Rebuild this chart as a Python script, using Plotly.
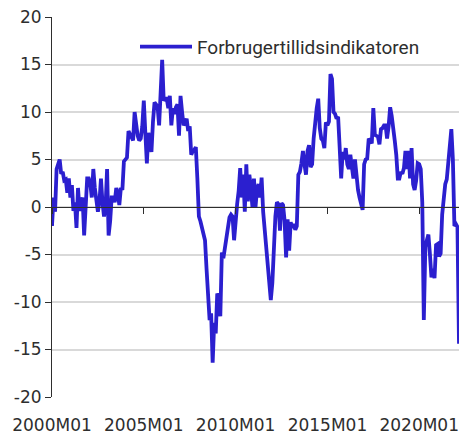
import plotly.graph_objects as go

series_name = "Forbrugertillidsindikatoren"

years = list(range(2000, 2023))
v2000 = [-2.0, 1.0, -0.5, 4.0, 4.5, 5.0, 3.5, 3.7, 2.8, 2.9, 1.5, 3.0]
v2001 = [1.0, 2.3, -0.4, 0.5, -2.2, 2.0, -0.4, 0.5, 1.0, -3.0, 0.0, 3.0]
v2002 = [3.0, 2.5, 1.0, 4.0, 2.0, 1.0, -0.5, 0.5, 3.0, 0.5, -1.0, 0.0]
v2003 = [4.0, -3.0, -1.5, 1.0, 1.0, 0.5, 2.0, 1.5, 0.2, 2.0, 1.8, 4.8]
v2004 = [5.0, 5.2, 8.0, 7.7, 7.5, 7.0, 10.0, 8.5, 7.5, 7.0, 7.2, 8.5]
v2005 = [11.2, 7.8, 4.6, 7.8, 6.4, 5.8, 9.0, 11.0, 10.8, 10.6, 8.6, 11.4]
v2006 = [15.5, 11.2, 11.4, 11.4, 10.4, 11.7, 8.6, 10.4, 9.8, 10.5, 10.8, 7.5]
v2007 = [11.7, 10.0, 8.6, 8.9, 9.3, 8.0, 8.5, 5.5, 5.9, 6.0, 6.3, 3.0]
v2008 = [-1.0, -1.5, -2.2, -2.5, -3.5, -6.5, -9.5, -11.9, -11.2, -16.4, -12.2, -13.3]
v2009 = [-9.1, -9.5, -11.5, -4.8, -5.4, -4.2, -3.2, -2.5, -1.1, -0.8, -1.0, -3.5]
v2010 = [-1.1, 0.3, 1.7, 4.1, 1.0, 3.4, -0.5, 4.5, 0.6, 3.4, 2.0, 0.0]
v2011 = [3.0, 0.0, 1.9, 2.4, 1.0, 3.1, -0.5, -2.5, -3.5, -5.5, -7.7, -9.8]
v2012 = [-8.0, -4.2, -1.0, 0.5, 0.3, -2.5, 0.4, 0.2, -1.4, -5.3, -1.3, -4.6]
v2013 = [-1.6, -2.2, -1.8, -2.4, -2.0, 3.4, 3.7, 4.6, 5.9, 4.5, 3.4, 5.9]
v2014 = [6.5, 4.2, 4.5, 7.2, 9.3, 10.4, 11.4, 8.3, 7.2, 7.0, 6.2, 8.9]
v2015 = [8.6, 9.0, 14.0, 13.5, 10.0, 9.8, 9.3, 9.5, 6.3, 3.0, 5.8, 5.0]
v2016 = [6.2, 4.5, 4.0, 5.5, 4.2, 3.0, 5.0, 3.0, 1.8, 1.0, 0.5, -0.3]
v2017 = [4.5, 5.0, 5.1, 7.2, 7.0, 6.7, 10.4, 7.6, 7.5, 7.4, 6.6, 8.2]
v2018 = [8.3, 8.6, 8.6, 7.2, 8.5, 10.5, 9.6, 8.6, 7.0, 5.5, 3.0, 3.0]
v2019 = [3.7, 3.5, 4.1, 5.9, 4.0, 5.9, 3.0, 6.2, 2.4, 1.8, 2.8, 4.6]
v2020 = [4.5, 4.0, 0.5, -11.9, -4.2, -3.5, -2.9, -5.0, -7.4, -6.5, -7.5, -4.0]
v2021 = [-3.9, -5.2, -4.9, -0.8, 1.5, 2.4, 2.9, 4.4, 6.5, 8.2, 5.0, -2.0]
v2022 = [-1.8, -2.1, -14.4]

yearly = [v2000, v2001, v2002, v2003, v2004, v2005, v2006, v2007, v2008, v2009,
          v2010, v2011, v2012, v2013, v2014, v2015, v2016, v2017, v2018, v2019,
          v2020, v2021, v2022]

months = []
values = []
for yr, vals in zip(years, yearly):
    for m, v in enumerate(vals, start=1):
        months.append(f"{yr}M{m:02d}")
        values.append(v)

x_tick_labels = ["2000M01", "2005M01", "2010M01", "2015M01", "2020M01"]
y_ticks = [-20, -15, -10, -5, 0, 5, 10, 15, 20]
y_tick_labels = ["-20", "-15", "-10", "-5", "0", "5", "10", "15", "20"]

x_idx_ticks = [months.index(t) for t in x_tick_labels]
n = len(months)

LINE = "#2B1FCF"
DARK = "#2e2e2e"
GRID = "#d9d9d9"
TICKFONT = dict(family="DejaVu Sans", size=17, color=DARK)

fig = go.Figure()
fig.add_trace(go.Scatter(
    x=months, y=values, mode="lines", name=series_name,
    line=dict(color=LINE, width=3.8), showlegend=True,
))
# empty trace to keep the zero-line axis alive
fig.add_trace(go.Scatter(x=[], y=[], xaxis="x2", yaxis="y", showlegend=False))

fig.update_layout(
    width=459, height=435,
    margin=dict(l=52, r=0, t=17, b=34),
    paper_bgcolor="white", plot_bgcolor="white",
    xaxis=dict(
        type="category", range=[0, n - 1],
        tickvals=x_tick_labels, ticktext=x_tick_labels,
        showgrid=False, zeroline=False, showline=False, ticks="",
        tickfont=TICKFONT, ticklabelstandoff=16,
    ),
    xaxis2=dict(
        overlaying="x", anchor="free", position=0.5, side="bottom",
        range=[0, n - 1], tickvals=x_idx_ticks,
        showticklabels=False, ticks="outside", ticklen=6, tickwidth=1, tickcolor=DARK,
        showline=True, linecolor=DARK, linewidth=1,
        showgrid=False, zeroline=False,
    ),
    yaxis=dict(
        range=[-20, 20], tickvals=y_ticks, ticktext=y_tick_labels,
        showgrid=True, gridcolor=GRID, gridwidth=1.5,
        zeroline=False,
        showline=True, linecolor=DARK, linewidth=1,
        ticks="outside", ticklen=6, tickwidth=1, tickcolor=DARK,
        tickfont=TICKFONT,
    ),
    legend=dict(
        x=(135 - 52) / 407, xanchor="left",
        y=(401 - 47) / 384, yanchor="middle",
        itemwidth=52,
        bgcolor="rgba(0,0,0,0)", borderwidth=0,
        font=dict(family="Roboto", size=19, color=DARK),
    ),
)

fig.write_html(
    "out.html",
    config={"displayModeBar": False},
    post_script="document.body.style.margin='0';document.body.style.padding='0';",
)
